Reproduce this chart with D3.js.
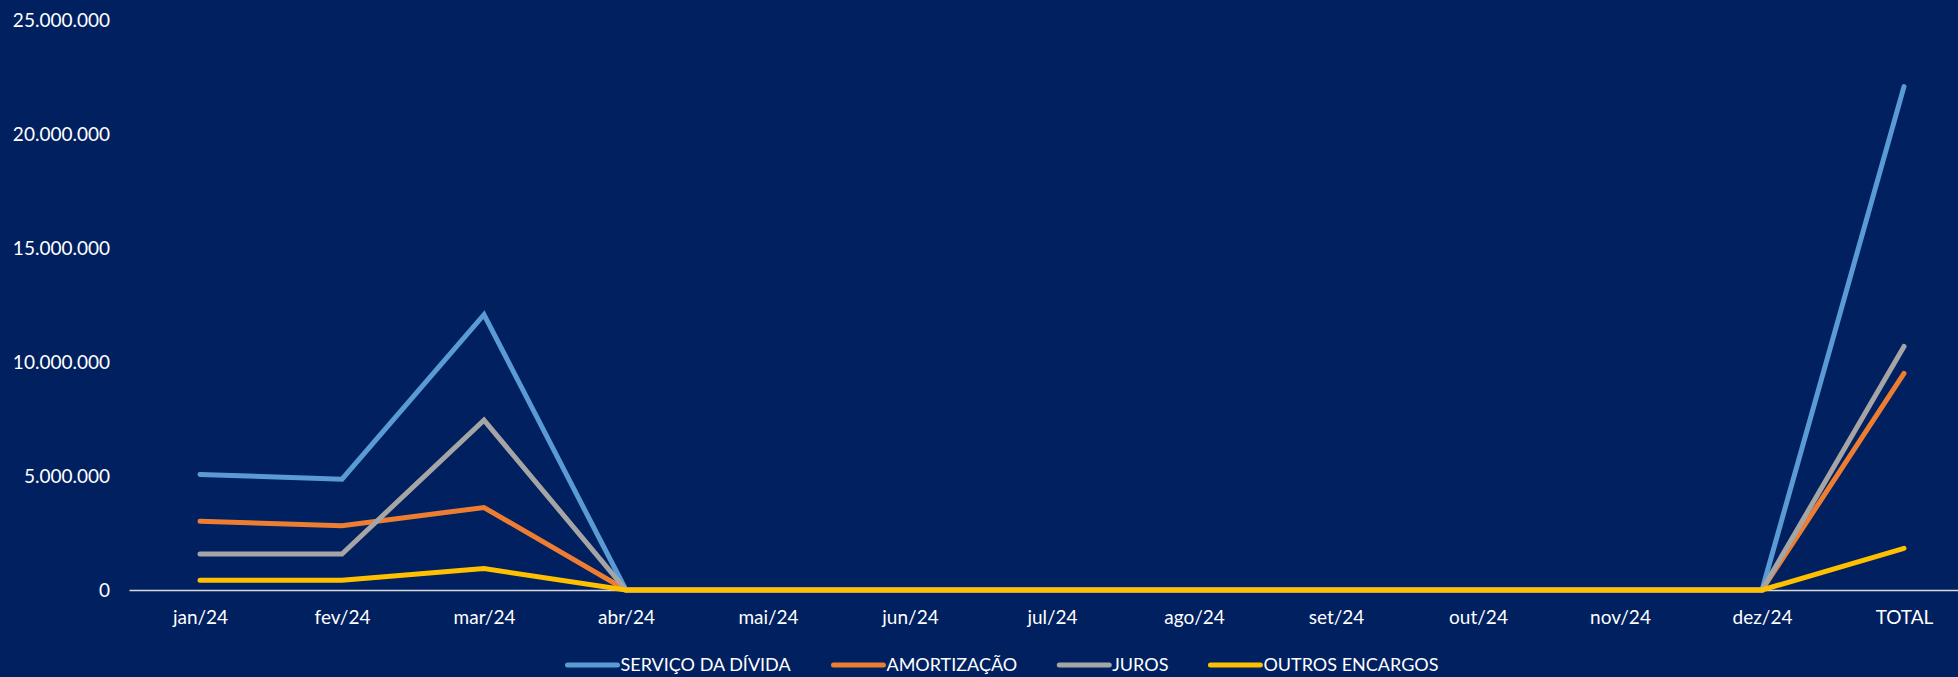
<!DOCTYPE html>
<html>
<head>
<meta charset="utf-8">
<script src="https://cdn.jsdelivr.net/npm/d3@7"></script>
<style>
  html, body { margin: 0; padding: 0; background: #002060; }
  svg { display: block; }
  text { font-family: Lato, "Open Sans", sans-serif; fill: #ffffff; }
</style>
</head>
<body>
<svg id="chart" width="1958" height="677"></svg>
<script>
const categories = ["jan/24","fev/24","mar/24","abr/24","mai/24","jun/24","jul/24","ago/24","set/24","out/24","nov/24","dez/24","TOTAL"];
const servicoDivida = [5070000, 4860000, 12080000, 0, 0, 0, 0, 0, 0, 0, 0, 0, 22080000];
const amortizacao   = [3010000, 2820000, 3620000, 0, 0, 0, 0, 0, 0, 0, 0, 0, 9500000];
const juros         = [1580000, 1580000, 7450000, 0, 0, 0, 0, 0, 0, 0, 0, 0, 10680000];
const outrosEncargos= [430000, 430000, 940000, 0, 0, 0, 0, 0, 0, 0, 0, 0, 1830000];
const yTicks = [0, 5000000, 10000000, 15000000, 20000000, 25000000];
const seriesNames = ["SERVIÇO DA DÍVIDA", "AMORTIZAÇÃO", "JUROS", "OUTROS ENCARGOS"];
const seriesColors = ["#5B9BD5", "#ED7D31", "#A5A5A5", "#FFC000"];

const series = [servicoDivida, amortizacao, juros, outrosEncargos].map((vals, i) => ({
  name: seriesNames[i], color: seriesColors[i], values: vals
}));

const svg = d3.select("#chart");
const W = 1958, H = 677;
svg.append("rect").attr("width", W).attr("height", H).attr("fill", "#002060");

const x = d3.scalePoint().domain(categories).range([129, 1975]).padding(0.5);
const y = d3.scaleLinear().domain([0, 25000000]).range([590, 20]);

const locale = d3.formatLocale({decimal: ",", thousands: ".", grouping: [3], currency: ["R$", ""]});
const fmt = locale.format(",.0f");

// Y axis labels
const yAxis = d3.axisLeft(y).tickValues(yTicks).tickFormat(fmt).tickSize(0).tickPadding(0);
const gy = svg.append("g").attr("transform", "translate(110,0)").call(yAxis);
gy.select(".domain").remove();
gy.selectAll("text").attr("font-size", 19).attr("fill", "#ffffff").style("font-family", "Lato, sans-serif");

// X axis
const xAxis = d3.axisBottom(x).tickSize(0).tickPadding(21);
const gx = svg.append("g").attr("transform", "translate(0," + y(0) + ")").call(xAxis);
gx.select(".domain").attr("stroke", "#D9D9D9").attr("stroke-width", 1.5);
gx.selectAll("text").attr("font-size", 19).attr("fill", "#ffffff").style("font-family", "Lato, sans-serif");

// Lines
const line = d3.line().x((d, i) => x(categories[i])).y(d => y(d));
svg.append("g").selectAll("path").data(series).join("path")
  .attr("d", d => line(d.values))
  .attr("fill", "none")
  .attr("stroke", d => d.color)
  .attr("stroke-width", 5)
  .attr("stroke-linecap", "round")
  .attr("stroke-linejoin", "miter");

// Legend
const legend = svg.append("g");
const swatch = 50, gapText = 3, gapItem = 42, legendY = 665;
const items = legend.selectAll("g").data(series).join("g");
items.append("line").attr("x1", 0).attr("x2", swatch).attr("y1", 0).attr("y2", 0)
  .attr("stroke", d => d.color).attr("stroke-width", 5).attr("stroke-linecap", "round");
items.append("text").attr("x", swatch + gapText).attr("y", 0).attr("dy", "0.35em")
  .attr("font-size", 18).text(d => d.name);
let widths = [];
items.each(function() { widths.push(this.getBBox().width); });
const total = d3.sum(widths) + gapItem * (widths.length - 1);
let cx = 1003 - total / 2;
items.each(function(d, i) {
  d3.select(this).attr("transform", "translate(" + cx + "," + legendY + ")");
  cx += widths[i] + gapItem;
});
</script>
</body>
</html>
